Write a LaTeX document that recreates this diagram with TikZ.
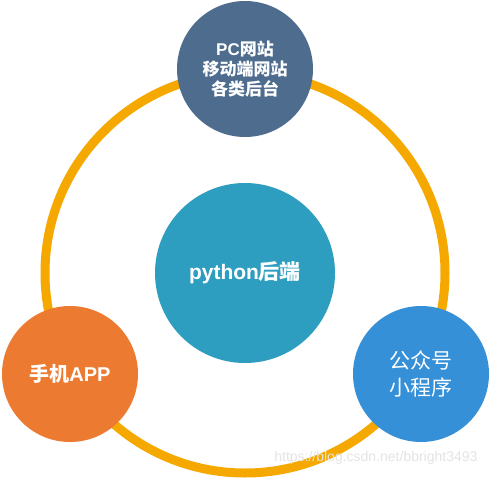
\documentclass[tikz,border=0pt]{standalone}
\usepackage{fontspec}
\setmainfont{Liberation Sans}
\newfontfamily\cjk{Noto Sans CJK SC}
\definecolor{ringc}{HTML}{F5A900}
\definecolor{topc}{HTML}{4D6C8E}
\definecolor{midc}{HTML}{2D9EBF}
\definecolor{leftc}{HTML}{EC7B31}
\definecolor{rightc}{HTML}{3590D8}
\definecolor{wm}{HTML}{E4E4E4}
\tikzset{
  bubble/.style={circle, inner sep=0pt, minimum size=136pt, text=white, align=center},
  bigbubble/.style={bubble, minimum size=180pt},
}
\begin{document}
\begin{tikzpicture}[x=1pt,y=-1pt]
\useasboundingbox (0,0) rectangle (490,477);
\fill[white] (0,0) rectangle (490,477);
\node[circle, draw=ringc, line width=9pt, minimum size=400pt, inner sep=0pt] (ring) at (245,273) {};
\node[bubble, fill=topc, font=\bfseries\fontsize{17}{20}\selectfont] (pc) at (245,69)
  {PC{\cjk\bfseries 网站}\\{\cjk\bfseries 移动端网站}\\{\cjk\bfseries 各类后台}};
\node[bigbubble, fill=midc, font=\bfseries\fontsize{21}{25}\selectfont] (py) at (245,273)
  {python{\cjk\bfseries 后端}};
\node[bubble, fill=leftc, font=\bfseries\fontsize{20}{24}\selectfont] (app) at (70,374)
  {{\cjk 手机}APP};
\node[bubble, fill=rightc, font=\cjk\fontsize{21}{27}\selectfont] (wx) at (421,374)
  {公众号\\小程序};
\node[text=wm, font=\fontsize{14}{16}\selectfont, anchor=east] (mark) at (481,458)
  {https://blog.csdn.net/bbright3493};
\end{tikzpicture}
\end{document}
